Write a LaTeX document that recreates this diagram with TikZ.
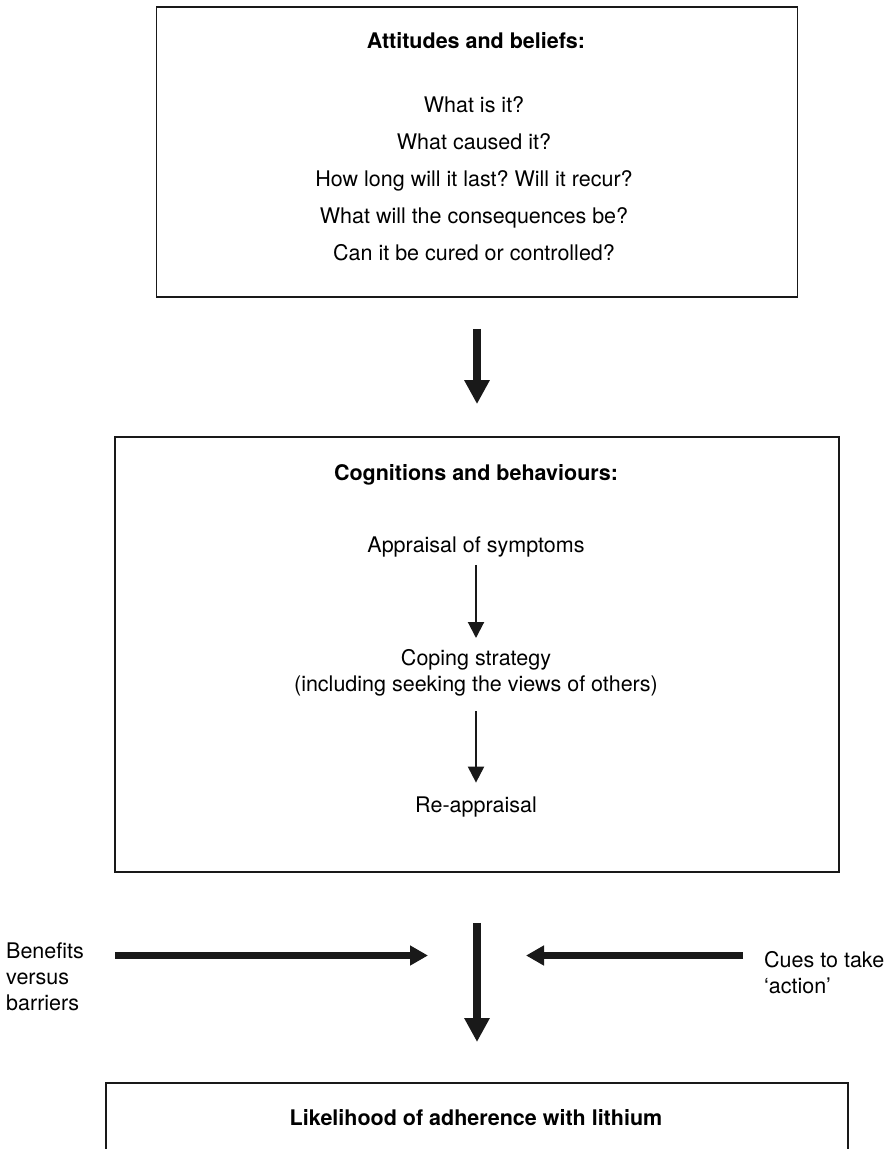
\documentclass[tikz,border=0pt]{standalone}
\usepackage{fontspec}
\setmainfont{TeX Gyre Heros}
\usetikzlibrary{arrows.meta}
\frenchspacing

\tikzset{
  box/.style={draw=black!90, line width=1.8pt},
  txt/.style={font=\fontsize{21.5pt}{26pt}\selectfont, inner sep=0pt, anchor=base},
  headtxt/.style={txt, font=\fontsize{21.5pt}{26pt}\selectfont\bfseries},
  bigarrow/.style={draw=black!90, line width=8pt, -{Triangle[width=24pt,length=24pt]}},
  sidearrow/.style={draw=black!90, line width=7pt, -{Triangle[width=19pt,length=18pt]}},
  thinarrow/.style={draw=black!90, line width=2pt, -{Triangle[width=16pt,length=16pt]}},
}

\begin{document}
\begin{tikzpicture}[x=1pt,y=-1pt]
  \useasboundingbox (0,0) rectangle (891,1149);

  % attitudes and beliefs
  \node[box, minimum width=641pt, minimum height=290pt] (beliefs) at (477,152) {};
  \node[headtxt] (beliefstitle) at (476,48.5) {Attitudes and beliefs:};
  \foreach \q [count=\i from 0] in {What is it?, What caused it?, How long will it last? Will it recur?, What will the consequences be?, Can it be cured or controlled?}
    \node[txt] (q\i) at (474,112+37*\i) {\q};

  % cognitions and behaviours
  \node[box, minimum width=724pt, minimum height=435pt] (cogn) at (477,654.5) {};
  \node[headtxt] (cogntitle) at (476,480) {Cognitions and behaviours:};
  \node[txt] (appraisal) at (476,552) {Appraisal of symptoms};
  \node[txt, align=center, anchor=north] (coping) at (476,649) {Coping strategy\\(including seeking the views of others)};
  \node[txt] (reappraisal) at (476,812.5) {Re-appraisal};

  \draw[thinarrow, shorten <=8pt, shorten >=11pt] (appraisal) -- (coping);
  \draw[thinarrow, shorten <=15pt, shorten >=14pt] (coping) -- (reappraisal);

  \draw[bigarrow, shorten <=31pt, shorten >=32pt] (beliefs) -- (cogn);

  % influences from the sides
  \node[txt, align=left, anchor=north west] (benefits) at (6,943) {Benefits\\versus\\barriers};
  \node[txt, align=left, anchor=north west] (cues) at (764,951.5) {Cues to take\\‘action’};
  \coordinate (bstart) at (115,955.5);
  \coordinate (cstart) at (743,955.5);
  \coordinate (join) at (477,955.5);
  \draw[sidearrow, shorten >=49pt] (bstart) -- (join);
  \draw[sidearrow, shorten >=49pt] (cstart) -- (join);

  % likelihood of adherence (box runs off the page)
  \coordinate (adhere) at (477,1083);
  \draw[box] (106,1152) -- (106,1083) -- (848,1083) -- (848,1152);
  \node[headtxt] (likely) at (476,1125) {Likelihood of adherence with lithium};

  \draw[bigarrow, shorten <=50pt, shorten >=41pt] (cogn.south) -- (adhere);
\end{tikzpicture}
\end{document}
